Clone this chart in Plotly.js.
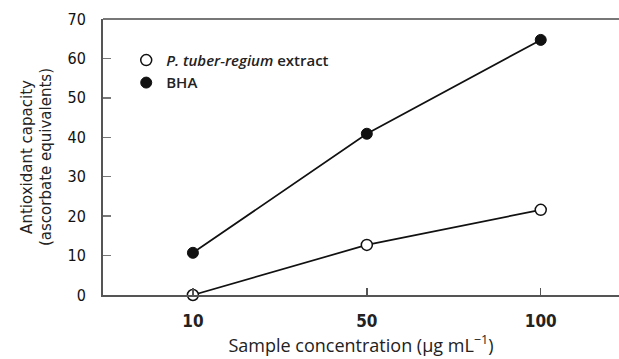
<!DOCTYPE html>
<html>
<head>
<meta charset="utf-8">
<script src="https://cdn.plot.ly/plotly-3.0.1.min.js"></script>
<style>html,body{margin:0;padding:0;background:#fff;}#chart{width:619px;height:359px;}</style>
</head>
<body>
<div id="chart"></div>
<script>
const categories = ["10", "50", "100"];
const extractValues = [0, 12.7, 21.6];
const bhaValues = [10.7, 40.9, 64.7];
const yTickVals = [0, 10, 20, 30, 40, 50, 60, 70];
const seriesNames = ["<i>P. tuber-regium</i> extract", "BHA"];

const lineStyle = {color: "#111", width: 1.7};
const openMarker = {symbol: "circle", size: 11, color: "#fff", line: {color: "#111", width: 1.5}};
const filledMarker = {symbol: "circle", size: 11, color: "#111", line: {color: "#111", width: 1}};

const traces = [
  {x: categories, y: extractValues, type: "scatter", mode: "lines", line: lineStyle, showlegend: false, hoverinfo: "skip"},
  {x: categories, y: bhaValues, type: "scatter", mode: "lines", line: lineStyle, showlegend: false, hoverinfo: "skip"},
  {x: categories, y: extractValues, type: "scatter", mode: "markers", name: seriesNames[0], marker: openMarker, cliponaxis: false},
  {x: categories, y: bhaValues, type: "scatter", mode: "markers", name: seriesNames[1], marker: filledMarker, cliponaxis: false}
];

const layout = {
  width: 619, height: 359,
  margin: {l: 103, r: 0, t: 19, b: 64},
  paper_bgcolor: "#fff", plot_bgcolor: "#fff",
  showlegend: true,
  legend: {
    x: 0.045, y: 0.91, xanchor: "left", yanchor: "top",
    font: {family: "Open Sans", size: 15, color: "#222", weight: 600},
    bgcolor: "rgba(0,0,0,0)", itemwidth: 30, tracegroupgap: 0
  },
  xaxis: {
    type: "category",
    range: [-0.517, 2.45],
    showgrid: false, zeroline: false,
    showline: true, linecolor: "#555", linewidth: 2,
    ticks: "inside", ticklen: 7, tickcolor: "#555", tickwidth: 1.5,
    tickfont: {family: "Liberation Sans Narrow, DejaVu Sans Condensed", size: 17, color: "#222", weight: 700},
    ticklabelstandoff: 10,
    title: {text: "Sample concentration (µg mL<sup>−1</sup>)", font: {family: "Open Sans", size: 18, color: "#222"}, standoff: 4}
  },
  yaxis: {
    range: [0, 70],
    tickvals: yTickVals,
    showgrid: false, zeroline: false,
    showline: true, linecolor: "#555", linewidth: 2,
    ticks: "inside", ticklen: 8, tickcolor: "#777", tickwidth: 1.5,
    tickfont: {family: "Liberation Sans Narrow, DejaVu Sans Condensed", size: 16, color: "#111"},
    ticklabelstandoff: 12,
    title: {text: "Antioxidant capacity<br>(ascorbate equivalents)", font: {family: "DejaVu Sans", size: 15, color: "#222"}, standoff: 12}
  },
  shapes: [
    {type: "line", xref: "paper", yref: "paper", x0: 0, x1: 1, y0: 1, y1: 1, line: {color: "#777", width: 2}}
  ]
};

Plotly.newPlot("chart", traces, layout, {displayModeBar: false, staticPlot: true});
</script>
</body>
</html>
